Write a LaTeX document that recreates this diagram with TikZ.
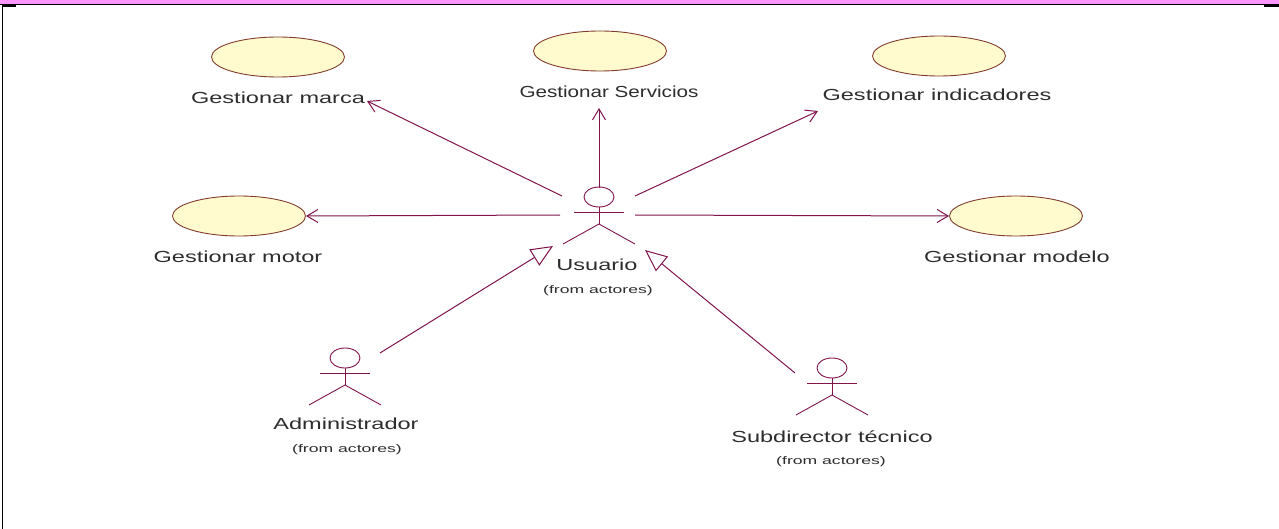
\documentclass[tikz,border=0pt]{standalone}
\usepackage{fontspec}
\setmainfont{Liberation Sans}
\usepackage{graphicx}
\usetikzlibrary{shapes.geometric,arrows.meta}

\definecolor{bandpink}{RGB}{250,150,250}
\definecolor{assoc}{RGB}{128,20,75}
\definecolor{ucfill}{RGB}{255,251,206}
\definecolor{ucline}{RGB}{130,60,45}
\definecolor{txt}{RGB}{45,45,45}

% wide, stretched labels as drawn by the modelling tool
\newcommand{\biglabel}[2][1.47]{\scalebox{#1}[1]{\fontsize{16}{19}\selectfont #2}}
\newcommand{\smalllabel}[1]{\scalebox{1.6}[1]{\fontsize{11}{13}\selectfont #1}}

\tikzset{
  usecase/.style={ellipse, draw=ucline, fill=ucfill, line width=0.9pt,
    inner sep=0pt, minimum width=133pt, minimum height=40pt},
  lbl/.style={anchor=base, inner sep=0pt, text=txt},
  actorline/.style={draw=assoc, line width=0.9pt},
  navarrow/.style={draw=assoc, line width=1pt,
    -{Straight Barb[length=11pt,width=13pt,line width=1pt]}},
  genarrow/.style={draw=assoc, line width=1pt,
    -{Triangle[open,length=22pt,width=19pt,line width=1pt,fill=white]}},
  actor/.pic={
    \draw[actorline] (0,0) ellipse [x radius=15, y radius=10];
    \draw[actorline] (-25,15) -- (25,15);
    \draw[actorline] (0,10) -- (0,27);
    \draw[actorline] (-36,47) -- (0,27) -- (36,47);
  }
}

\begin{document}
\begin{tikzpicture}[x=1pt,y=-1pt]
\useasboundingbox (0,0) rectangle (1279,529);

% frame
\fill[bandpink] (0,0) rectangle (1279,4);
\draw[black, line width=1.3pt] (0,4.6) -- (1279,4.6);
\draw[black, line width=2pt] (2,5.6) -- (16,5.6);
\draw[black, line width=2.4pt] (1264,5.8) -- (1279,5.8);
\draw[black, line width=1.6pt] (2.5,4) -- (2.5,529);

% use cases
\node[usecase] (ucMarca) at (278,57) {};
\node[usecase] (ucServ) at (600,51) {};
\node[usecase] (ucInd) at (939,56) {};
\node[usecase] (ucMotor) at (239,216) {};
\node[usecase] (ucModelo) at (1016,216) {};

\node[lbl] (lMarca) at (278,104) {\biglabel{Gestionar marca}};
\node[lbl] (lServ) at (609,98) {\biglabel[1.29]{Gestionar Servicios}};
\node[lbl] (lInd) at (937,101) {\biglabel{Gestionar indicadores}};
\node[lbl] (lMotor) at (238,263) {\biglabel{Gestionar motor}};
\node[lbl] (lModelo) at (1017,263) {\biglabel{Gestionar modelo}};

% actors
\pic at (599,197) {actor};
\pic at (345,358) {actor};
\pic at (832,368) {actor};

\node[lbl] (lUsr) at (597,270) {\biglabel{Usuario}};
\node[lbl] (lUsrFrom) at (598,293) {\smalllabel{(from actores)}};
\node[lbl] (lAdm) at (346,429) {\biglabel{Administrador}};
\node[lbl] (lAdmFrom) at (347,452) {\smalllabel{(from actores)}};
\node[lbl] (lSub) at (832,442) {\biglabel{Subdirector técnico}};
\node[lbl] (lSubFrom) at (831,464) {\smalllabel{(from actores)}};

% connector end points
\coordinate (usrNW) at (562,196);
\coordinate (usrN) at (599,188);
\coordinate (usrNE) at (635,196);
\coordinate (usrW) at (560,215);
\coordinate (usrE) at (635,215);
\coordinate (usrGenL) at (553,246);
\coordinate (usrGenR) at (645,250);
\coordinate (tipMarca) at (367,101);
\coordinate (tipServ) at (599,108);
\coordinate (tipInd) at (818,111);
\coordinate (admTop) at (380,353);
\coordinate (subTop) at (795,373);

% associations
\draw[navarrow] (usrNW) -- (tipMarca);
\draw[navarrow] (usrN) -- (tipServ);
\draw[navarrow] (usrNE) -- (tipInd);
\draw[navarrow] (usrW) -- (ucMotor.east);
\draw[navarrow] (usrE) -- (ucModelo.west);

% generalizations
\draw[genarrow] (admTop) -- (usrGenL);
\draw[genarrow] (subTop) -- (usrGenR);
\end{tikzpicture}
\end{document}
